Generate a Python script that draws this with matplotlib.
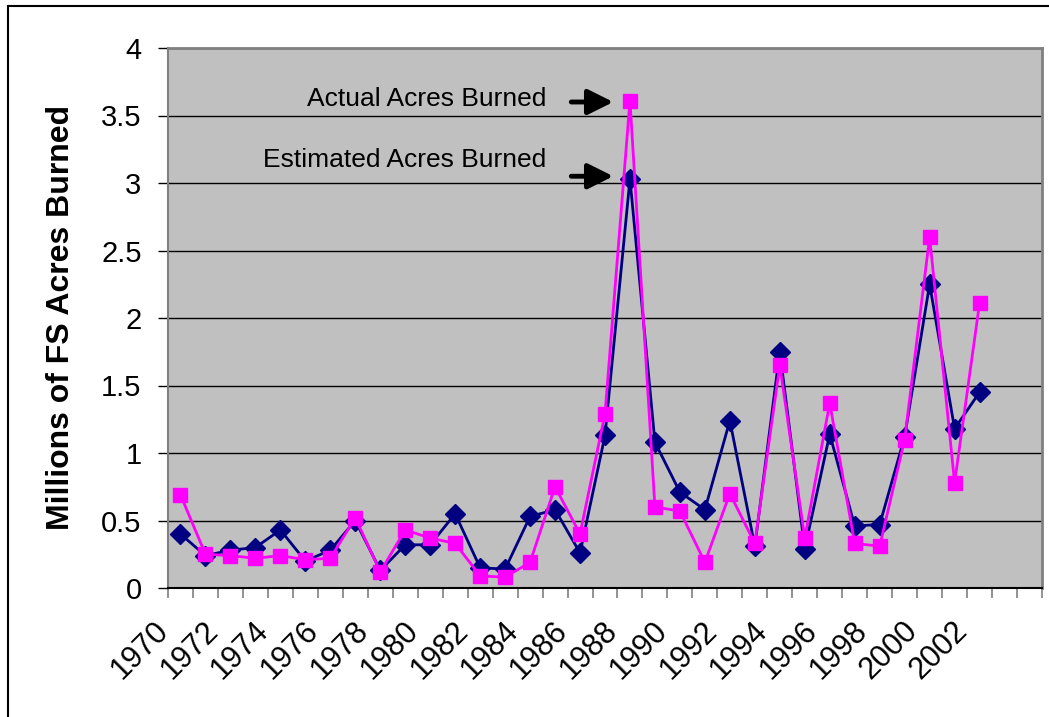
import numpy as np
import matplotlib
matplotlib.use("Agg")
import matplotlib.pyplot as plt
import matplotlib.patches as patches
import matplotlib.transforms as mtransforms

plt.rcParams['font.family'] = ['Liberation Sans', 'DejaVu Sans']

# Fire years (categories on the x axis run 1970-2004, data through 2002)
years = list(range(1970, 2003))
category_years = list(range(1970, 2005))

# Millions of FS acres burned
estimated = [0.40, 0.24, 0.28, 0.30, 0.43, 0.20, 0.28, 0.50, 0.13, 0.32,
             0.32, 0.55, 0.15, 0.14, 0.53, 0.58, 0.26, 1.13, 3.03, 1.08,
             0.71, 0.58, 1.24, 0.31, 1.75, 0.29, 1.14, 0.46, 0.47, 1.12,
             2.25, 1.18, 1.45]
actual = [0.69, 0.25, 0.24, 0.22, 0.24, 0.21, 0.22, 0.52, 0.12, 0.43,
          0.37, 0.33, 0.09, 0.08, 0.19, 0.75, 0.40, 1.29, 3.61, 0.60,
          0.57, 0.19, 0.70, 0.33, 1.65, 0.37, 1.37, 0.33, 0.31, 1.10,
          2.60, 0.78, 2.11]

W, H = 1049, 717
fig = plt.figure(figsize=(W / 100, H / 100), dpi=100)
ax = fig.add_axes([168 / W, 1 - 588 / H, (1042 - 168) / W, (588 - 48) / H])
ax.set_facecolor('#C0C0C0')

x = np.arange(len(years))
ax.plot(x, estimated, color='#000080', lw=2, marker='D', markersize=10,
        markeredgecolor='#000080', zorder=3)
ax.plot(x, actual, color='#FF00FF', lw=2, marker='s', markersize=9.5,
        markeredgecolor='#FF00FF', zorder=4)

ax.set_xlim(-0.5, len(category_years) - 0.5)
ax.set_ylim(0, 4)

# y axis
ax.set_yticks(np.arange(0, 4.01, 0.5))
ax.set_yticklabels(['0', '0.5', '1', '1.5', '2', '2.5', '3', '3.5', '4'])
ax.yaxis.grid(True, color='black', lw=1)
ax.set_axisbelow(True)
ax.tick_params(axis='y', length=7, width=1, color='black', pad=12,
               labelsize=21)
ax.set_ylabel('Millions of FS Acres Burned', fontsize=23, fontweight='bold')
ax.yaxis.set_label_coords(-0.105, 0.5)

# x axis: ticks between categories, labels every other year
ax.set_xticks(np.arange(-0.5, len(category_years), 1.0), minor=True)
ax.set_xticks(x[::2])
ax.set_xticklabels([str(y) for y in years[::2]], rotation=45, ha='right',
                   fontsize=22)
ax.tick_params(axis='x', which='major', length=0, pad=20)
ax.tick_params(axis='x', which='minor', length=7, width=1.2, color='#808080')
offset = mtransforms.ScaledTranslation(-6 / 100, 0, fig.dpi_scale_trans)
for lbl in ax.get_xticklabels():
    lbl.set_transform(lbl.get_transform() + offset)

for side in ['top', 'right']:
    ax.spines[side].set_color('#808080')
    ax.spines[side].set_linewidth(2)
ax.spines['left'].set_color('#808080')
ax.spines['left'].set_linewidth(1.5)
ax.spines['bottom'].set_color('black')
ax.spines['bottom'].set_linewidth(1.5)

# annotations
ax.text(14.65, 3.62, 'Actual Acres Burned', ha='right', va='center',
        fontsize=19)
ax.text(14.65, 3.17, 'Estimated Acres Burned', ha='right', va='center',
        fontsize=19)
arrow = dict(arrowstyle='-|>,head_length=0.7,head_width=0.35', lw=3.5,
             color='black', mutation_scale=22, shrinkA=0, shrinkB=0)
ax.annotate('', xy=(17.33, 3.60), xytext=(15.65, 3.60), arrowprops=arrow)
ax.annotate('', xy=(17.33, 3.05), xytext=(15.65, 3.05), arrowprops=arrow)

# chart area border
fig.patches.append(patches.Rectangle((8 / W, -0.1), 1.2, 1 - 6 / H + 0.1,
                                     transform=fig.transFigure, fill=False,
                                     edgecolor='black', lw=1.5))

fig.savefig('out.png', dpi=100)
